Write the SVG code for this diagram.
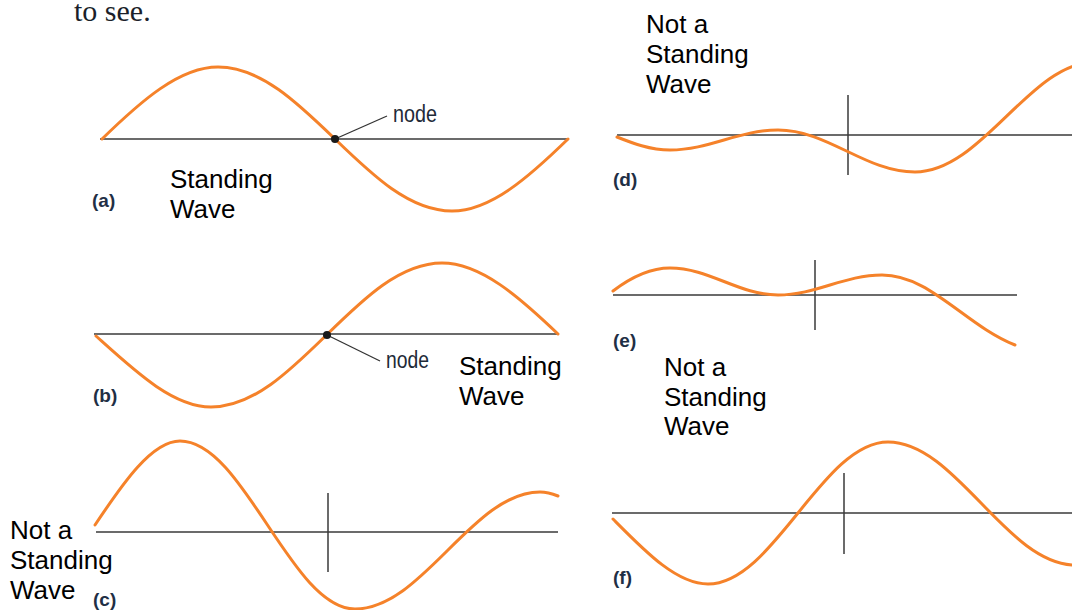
<svg xmlns="http://www.w3.org/2000/svg" width="1072" height="610" viewBox="0 0 1072 610">
<style>
.bg{fill:#ffffff}
.axis{stroke:#3a3a3a;stroke-width:1.5;fill:none}
.tick{stroke:#3a3a3a;stroke-width:1.5;fill:none}
.wave{stroke:#f5822a;stroke-width:3;fill:none;stroke-linecap:round}
.lead{stroke:#333;stroke-width:1.3;fill:none}
.dot{fill:#1a1a1a}
.lbl{font-family:"Liberation Sans",Arial,sans-serif;font-weight:bold;font-size:19px;fill:#1f2f45}
.node{font-family:"Liberation Sans",Arial,sans-serif;font-size:23px;fill:#1e2a38}
.ann{font-family:"Liberation Sans",Arial,sans-serif;font-size:26px;fill:#000}
.top{font-family:"Liberation Serif","Times New Roman",serif;font-size:30px;fill:#1b1f2a}
</style>
<rect class="bg" x="0" y="0" width="1072" height="610"/>
<text class="top" x="74" y="21">to see.</text>

<g id="panel-a">
<line class="axis" x1="100" y1="139" x2="568" y2="139"/>
<path class="wave" d="M102,139 C140.7,101.3 179.3,67 218,67 C303.2,67 366.8,211 452,211 C490.7,211 529.3,176.7 568,139"/>
<line class="lead" x1="335" y1="139" x2="387" y2="116"/>
<circle class="dot" cx="335" cy="139" r="4"/>
<text class="node" x="393" y="122" textLength="44" lengthAdjust="spacingAndGlyphs">node</text>
<text class="lbl" x="92" y="207">(a)</text>
<text class="ann" x="170" y="188">Standing</text>
<text class="ann" x="170" y="218">Wave</text>
</g>

<g id="panel-b">
<line class="axis" x1="94" y1="334" x2="558" y2="334"/>
<path class="wave" d="M96,336 C134.3,370.5 172.7,407 211,407 C295,407 358,263 442,263 C480.7,263 519.3,297 558,334"/>
<line class="lead" x1="327" y1="335" x2="380" y2="361"/>
<circle class="dot" cx="327" cy="335" r="4"/>
<text class="node" x="386" y="368" textLength="43" lengthAdjust="spacingAndGlyphs">node</text>
<text class="lbl" x="93" y="402">(b)</text>
<text class="ann" x="459" y="375">Standing</text>
<text class="ann" x="459" y="405">Wave</text>
</g>

<g id="panel-c">
<line class="axis" x1="96" y1="532" x2="558" y2="532"/>
<line class="tick" x1="328" y1="493" x2="328" y2="572"/>
<path class="wave" d="M95,525 C123,483 152,441 180,441 C243.7,441 291.3,609 355,609 C422.4,609 472.6,492 540,492 C548,492 553,494 558,496"/>
<text class="lbl" x="93" y="606">(c)</text>
<text class="ann" x="10" y="539">Not a</text>
<text class="ann" x="10" y="569">Standing</text>
<text class="ann" x="10" y="599">Wave</text>
</g>

<g id="panel-d">
<line class="axis" x1="617" y1="135" x2="1072" y2="135"/>
<line class="tick" x1="848" y1="95" x2="848" y2="175"/>
<path class="wave" d="M617,137 C632,143 650,150 670,150 C709.3,150 738.7,130 778,130 C827.9,130 865.1,172 915,172 C982,172 1030,62 1095,62"/>
<text class="lbl" x="613" y="186">(d)</text>
<text class="ann" x="646" y="33">Not a</text>
<text class="ann" x="646" y="63">Standing</text>
<text class="ann" x="646" y="93">Wave</text>
</g>

<g id="panel-e">
<line class="axis" x1="613" y1="295" x2="1017" y2="295"/>
<line class="tick" x1="815" y1="260" x2="815" y2="330"/>
<path class="wave" d="M613,291 C630,278 650,268 670,268 C709.3,268 738.7,295 778,295 C815.9,295 844.1,275 882,275 C930,275 965,325 1015,345"/>
<text class="lbl" x="613" y="347">(e)</text>
<text class="ann" x="664" y="376">Not a</text>
<text class="ann" x="664" y="406">Standing</text>
<text class="ann" x="664" y="435">Wave</text>
</g>

<g id="panel-f">
<line class="axis" x1="612" y1="513" x2="1072" y2="513"/>
<line class="tick" x1="844" y1="473" x2="844" y2="554"/>
<path class="wave" d="M613,519 C644.7,551 676.3,584 708,584 C773.6,584 822.4,442 888,442 C956,442 1007,565 1075,565"/>
<text class="lbl" x="613" y="584">(f)</text>
</g>
</svg>
